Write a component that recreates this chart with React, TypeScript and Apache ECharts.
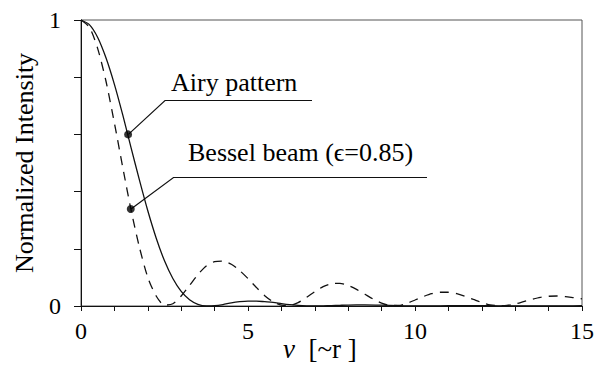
import React, { useEffect, useRef } from "react";
import * as echarts from "echarts";

// Airy pattern (solid)
const airyV = [0, 0.25, 0.5, 0.75, 1, 1.25, 1.5, 1.75, 2, 2.25, 2.5, 2.75, 3, 3.25, 3.5, 3.75, 4, 4.25, 4.5, 4.75, 5, 5.25, 5.5, 5.75, 6, 6.25, 6.5, 6.75, 7, 7.25, 7.5, 7.75, 8, 8.5, 9, 9.5, 10, 10.5, 11, 11.5, 12, 12.5, 13, 13.5, 14, 14.5, 15];
const airyI = [1, 0.984, 0.939, 0.867, 0.775, 0.668, 0.553, 0.44, 0.333, 0.238, 0.158, 0.096, 0.051, 0.022, 0.006, 0.0003, 0.001, 0.005, 0.011, 0.015, 0.017, 0.017, 0.015, 0.013, 0.0085, 0.0047, 0.0022, 0.0006, 0, 0.0004, 0.0013, 0.0024, 0.0034, 0.0041, 0.003, 0.0012, 0.0001, 0.0002, 0.001, 0.0016, 0.0014, 0.0007, 0.0001, 0, 0.0004, 0.0007, 0.0008];

// Bessel beam, epsilon = 0.85 (dashed)
const besselV = [0, 0.25, 0.5, 0.75, 1, 1.25, 1.5, 1.75, 2, 2.25, 2.5, 2.75, 3, 3.25, 3.5, 3.75, 4, 4.25, 4.5, 4.75, 5, 5.25, 5.5, 5.75, 6, 6.25, 6.5, 6.75, 7, 7.25, 7.5, 7.75, 8, 8.25, 8.5, 8.75, 9, 9.25, 9.5, 9.75, 10, 10.25, 10.5, 10.75, 11, 11.25, 11.5, 11.75, 12, 12.25, 12.5, 12.75, 13, 13.25, 13.5, 13.75, 14, 14.25, 14.5, 14.75, 15];
const besselI = [1, 0.975, 0.9, 0.785, 0.64, 0.485, 0.335, 0.205, 0.1, 0.035, 0.003, 0.008, 0.035, 0.072, 0.11, 0.14, 0.155, 0.157, 0.146, 0.124, 0.096, 0.065, 0.036, 0.015, 0.003, 0.002, 0.012, 0.03, 0.05, 0.068, 0.078, 0.079, 0.072, 0.058, 0.041, 0.024, 0.01, 0.002, 0.002, 0.009, 0.021, 0.033, 0.043, 0.048, 0.048, 0.043, 0.034, 0.023, 0.012, 0.004, 0.001, 0.002, 0.007, 0.015, 0.023, 0.03, 0.034, 0.035, 0.033, 0.029, 0.025];

// Annotated points on the curves
const airyDot = [1.41, 0.6];
const besselDot = [1.49, 0.339];

const xTickLabels = [0, 5, 10, 15];
const yTickLabels = [0, 1];

const SERIF = "Liberation Serif";

export default function App() {
  const ref = useRef<HTMLDivElement>(null);
  useEffect(() => {
    if (!ref.current) return;
    const chart = echarts.init(ref.current, null, { renderer: "svg" });
    const ink = "#111";
    chart.setOption({
      animation: false,
      grid: {
        left: 81,
        right: 11,
        top: 20,
        bottom: 59,
        show: true,
        borderColor: "#555",
        borderWidth: 1,
      },
      xAxis: {
        type: "value",
        min: 0,
        max: 15,
        interval: 1,
        axisLine: { lineStyle: { color: ink, width: 1 } },
        axisTick: { length: 5, lineStyle: { color: ink } },
        splitLine: { show: false },
        axisLabel: {
          margin: 13,
          fontSize: 24,
          color: "#000",
          fontFamily: SERIF,
          formatter: (v: number) => (xTickLabels.includes(v) ? String(v) : ""),
        },
      },
      yAxis: {
        type: "value",
        min: 0,
        max: 1,
        interval: 0.2,
        name: "Normalized Intensity",
        nameLocation: "middle",
        nameGap: 44,
        nameTextStyle: { fontSize: 26, color: "#000", fontFamily: SERIF },
        axisLine: { show: true, lineStyle: { color: ink, width: 1 } },
        axisTick: { show: true, length: 7, lineStyle: { color: ink } },
        splitLine: { show: false },
        axisLabel: {
          margin: 20,
          fontSize: 24,
          color: "#000",
          fontFamily: SERIF,
          formatter: (v: number) => (yTickLabels.some((t) => Math.abs(t - v) < 1e-9) ? String(Math.round(v)) : ""),
        },
      },
      series: [
        {
          type: "line",
          data: airyV.map((v, i) => [v, airyI[i]]),
          showSymbol: false,
          smooth: 0.25,
          lineStyle: { color: ink, width: 1.3 },
          z: 3,
        },
        {
          type: "line",
          data: besselV.map((v, i) => [v, besselI[i]]),
          showSymbol: false,
          smooth: 0.25,
          lineStyle: { color: ink, width: 1.3, type: [9, 7] },
          z: 3,
        },
        {
          type: "scatter",
          data: [airyDot, besselDot],
          symbolSize: 8,
          itemStyle: { color: "#000" },
          z: 5,
        },
      ],
      graphic: [
        {
          type: "polyline",
          shape: { points: [[128.4, 134.4], [165, 100.5], [312, 100.5]] },
          style: { stroke: ink, lineWidth: 1.2, fill: null },
          z: 4,
        },
        {
          type: "polyline",
          shape: { points: [[131, 209], [173.5, 177.5], [427, 177.5]] },
          style: { stroke: ink, lineWidth: 1.2, fill: null },
          z: 4,
        },
        {
          type: "text",
          x: 171,
          y: 69,
          style: { text: "Airy pattern", fontSize: 26, fontFamily: SERIF, fill: "#000" },
        },
        {
          type: "text",
          x: 188,
          y: 139,
          style: { text: "Bessel beam (\u03F5=0.85)", fontSize: 26, fontFamily: SERIF, fill: "#000" },
        },
        {
          type: "text",
          x: 283,
          y: 335,
          style: {
            text: "{i|v}{n|  [~r ]}",
            rich: {
              i: { fontSize: 27, fontStyle: "italic", fontFamily: SERIF, fill: "#000" },
              n: { fontSize: 27, fontFamily: SERIF, fill: "#000" },
            },
          },
        },
      ],
    });
    return () => chart.dispose();
  }, []);
  return (
    <div
      ref={ref}
      style={{ position: "fixed", left: 0, top: 0, width: 597, height: 365, background: "#fff" }}
    />
  );
}
